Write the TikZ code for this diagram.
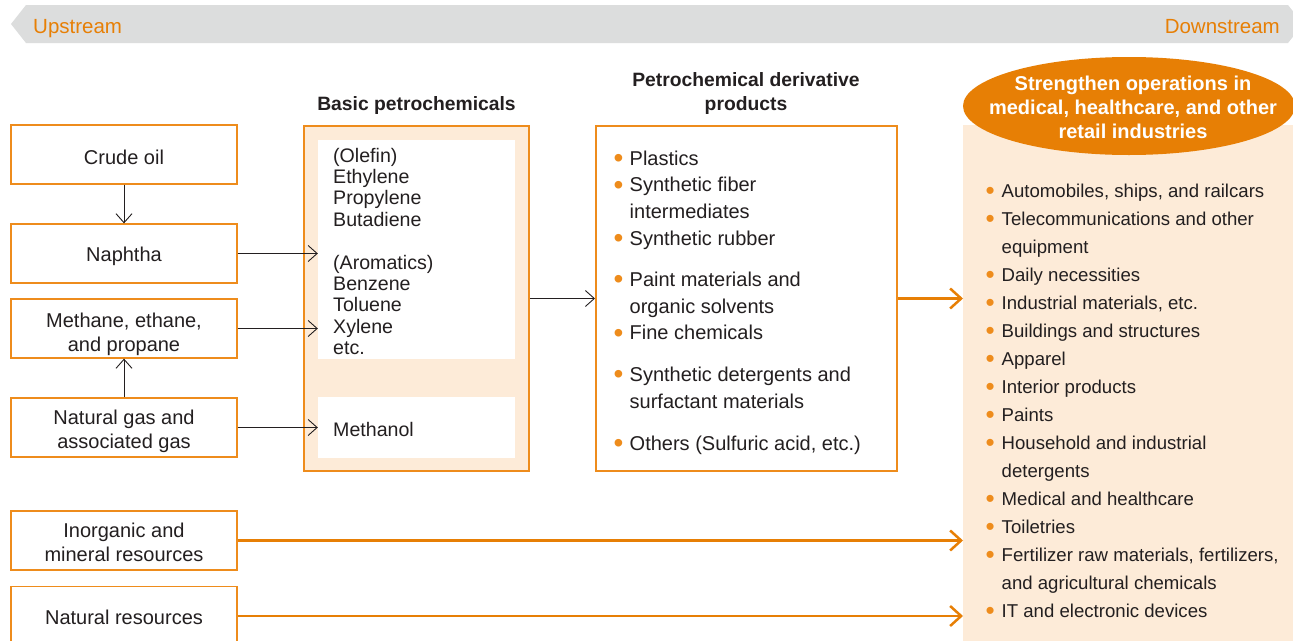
\documentclass[tikz,border=0pt]{standalone}
\usepackage{fontspec}
\setmainfont{Liberation Sans}
\usetikzlibrary{arrows.meta,shapes.geometric}
\definecolor{org}{HTML}{EE8C1C}
\definecolor{orgdk}{HTML}{E77F05}
\definecolor{peach}{HTML}{FDEBD8}
\definecolor{barg}{HTML}{DCDDDD}
\definecolor{ink}{HTML}{231F20}
\newcommand\bul{\makebox[16pt][l]{\raisebox{-2.5pt}{\textcolor{org}{\scalebox{1.4}{\textbullet}}}}}
\begin{document}
\begin{tikzpicture}[x=1pt,y=-1pt,
  every node/.style={text=ink, font=\fontsize{19}{23.5}\selectfont, inner sep=0pt},
  srcbox/.style={draw=org, line width=1.3pt, fill=white, minimum width=226pt, minimum height=59pt},
  srctxt/.style={anchor=base, font=\fontsize{20}{24}\selectfont},
  barrow/.style={draw=ink, line width=0.9pt, -{Straight Barb[length=9pt,width=16pt]}},
  oarrow/.style={draw=orgdk, line width=2.5pt, -{Straight Barb[length=11pt,width=20pt]}},
  title/.style={font=\bfseries\fontsize{19.3}{24}\selectfont},
  streamlbl/.style={text=orgdk, font=\fontsize{20.5}{24}\selectfont}]
\clip (0,0) rectangle (1293,640);
\fill[white] (0,0) rectangle (1293,640);
% top bar
\fill[barg] (11,24) -- (26,5) -- (1288,5) -- (1303,24) -- (1288,43) -- (26,43) -- cycle;
\node[streamlbl, anchor=base west] (up) at (33,33) {Upstream};
\node[streamlbl, anchor=base east] (down) at (1280,33) {Downstream};
% source boxes
\node[srcbox] (crude) at (124,154.5) {};
\node[srcbox] (naph) at (124,253.5) {};
\node[srcbox] (meth) at (124,328.5) {};
\node[srcbox] (gas) at (124,427.5) {};
\node[srcbox] (inorg) at (124,540.5) {};
\node[srcbox] (natres) at (124,616) {};
\node[srctxt] (crudetxt) at (124,164) {Crude oil};
\node[srctxt] (naphtxt) at (124,261.5) {Naphtha};
\node[srctxt] (methtxt) at (124,327) {\begin{tabular}[t]{@{}c@{}}Methane, ethane,\\and propane\end{tabular}};
\node[srctxt] (gastxt) at (124,424.5) {\begin{tabular}[t]{@{}c@{}}Natural gas and\\associated gas\end{tabular}};
\node[srctxt] (inorgtxt) at (124,537) {\begin{tabular}[t]{@{}c@{}}Inorganic and\\mineral resources\end{tabular}};
\node[srctxt] (natrestxt) at (124,624.5) {Natural resources};
% basic petrochemicals
\node[title, anchor=base] (ttlbasic) at (416.5,110) {Basic petrochemicals};
\node[draw=org, line width=2.5pt, fill=peach, minimum width=225pt, minimum height=345pt] (basic) at (416.5,298.5) {};
\node[fill=white, minimum width=197pt, minimum height=219pt] (in1) at (416.5,249.5) {};
\node[fill=white, minimum width=197pt, minimum height=61pt] (in2) at (416.5,427.5) {};
\node[anchor=base west, font=\fontsize{19.6}{21.4}\selectfont] (basiclist) at (333,162)
  {\begin{tabular}[t]{@{}l@{}}(Olefin)\\Ethylene\\Propylene\\Butadiene\\ \\(Aromatics)\\Benzene\\Toluene\\Xylene\\etc.\end{tabular}};
\node[anchor=base west, font=\fontsize{19.6}{21.4}\selectfont] (methanol) at (333,436) {Methanol};
% derivative products
\node[title, anchor=base] (ttlderiv) at (746,86)
  {\begin{tabular}[t]{@{}c@{}}Petrochemical derivative\\products\end{tabular}};
\node[draw=org, line width=2pt, fill=white, minimum width=301pt, minimum height=345pt] (deriv) at (746.5,298.5) {};
\node[anchor=base west, font=\fontsize{20}{26.7}\selectfont] (derivlist) at (613.5,165)
  {\begin{tabular}[t]{@{}l@{}l@{}}
   \bul & Plastics\\
   \bul & Synthetic fiber\\
        & intermediates\\
   \bul & Synthetic rubber\\[14.5pt]
   \bul & Paint materials and\\
        & organic solvents\\
   \bul & Fine chemicals\\[15pt]
   \bul & Synthetic detergents and\\
        & surfactant materials\\[15.5pt]
   \bul & Others (Sulfuric acid, etc.)
  \end{tabular}};
% downstream panel
\node[fill=peach, minimum width=340pt, minimum height=530pt, anchor=north west] (panel) at (963,125) {};
\node[ellipse, fill=orgdk, minimum width=332pt, minimum height=98pt] (ell) at (1129,106) {};
\node[title, text=white, anchor=base, font=\bfseries\fontsize{20}{24}\selectfont] (elltxt) at (1133,90)
  {\begin{tabular}[t]{@{}c@{}}Strengthen operations in\\medical, healthcare, and other\\retail industries\end{tabular}};
\node[anchor=base west, font=\fontsize{18.6}{28}\selectfont] (uselist) at (985.5,197)
  {\begin{tabular}[t]{@{}l@{}l@{}}
   \bul & Automobiles, ships, and railcars\\
   \bul & Telecommunications and other\\
        & equipment\\
   \bul & Daily necessities\\
   \bul & Industrial materials, etc.\\
   \bul & Buildings and structures\\
   \bul & Apparel\\
   \bul & Interior products\\
   \bul & Paints\\
   \bul & Household and industrial\\
        & detergents\\
   \bul & Medical and healthcare\\
   \bul & Toiletries\\
   \bul & Fertilizer raw materials, fertilizers,\\
        & and agricultural chemicals\\
   \bul & IT and electronic devices
  \end{tabular}};
% connectors
\draw[barrow] (crude.south) -- (naph.north);
\draw[barrow] (gas.north) -- (meth.south);
\draw[barrow] (naph.east) -- (naph.east -| in1.west);
\draw[barrow] (meth.east) -- (meth.east -| in1.west);
\draw[barrow] (gas.east) -- (gas.east -| in2.west);
\draw[barrow] (basic.east) -- (deriv.west);
\draw[oarrow] (deriv.east) -- (deriv.east -| panel.west);
\draw[oarrow] (inorg.east) -- (inorg.east -| panel.west);
\draw[oarrow] (natres.east) -- (natres.east -| panel.west);
\end{tikzpicture}
\end{document}
